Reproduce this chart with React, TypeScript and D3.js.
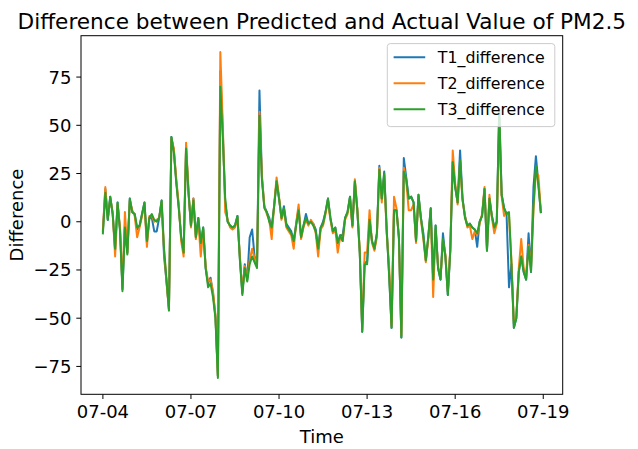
import React from 'react';
import * as d3 from 'd3';

// Hourly-step series (2 h sampling) of predicted minus actual PM2.5
const START = '2021-07-04 00:00';
const STEP_HOURS = 2;

const T1_difference = [
  -5, 17, 1, 13, 4, -15, 10, -4, -35, -2, -16, 12,
  5, 4, -4, -2, 4, 10, -11, 2, 2, -5, -5, 2,
  11, -18, -31, -45, 44, 37, 21, 8, -8, -16, 39, 15,
  -2, 12, -8, 2, -12, -3, -24, -32, -29, -37, -49, -80,
  78, 47, 10, 0, -2, -3, -2, 3, -19, -37, -22, -30,
  -8, -4, -18, -23, 68, 23, 8, 5, 2, -3, 8, 21,
  12, 2, 8, -1, -3, -5, -10, -1, 7, -8, -2, 4,
  -1, 0, -1, -4, -14, -3, 0, 5, 12, 2, -5, -3,
  -11, -7, -7, 2, 5, 13, -2, 21, 6, -16, -57, -21,
  -21, 1, -10, -14, -6, 29, 12, 26, -4, -27, -55, 6,
  6, -8, -60, 33, 23, 12, 13, 10, -10, 14, 2, -6,
  -20, -8, 7, -30, -2, -24, -30, -6, -18, -38, -15, 31,
  18, 10, 37, 12, 3, -2, -1, -3, -4, -13, 0, 3,
  17, -15, 12, 3, -3, 0, 58, 14, 7, 4, -34, -22,
  -55, -50, -26, -18, -26, -30, -6, -26, 18, 34, 20, 5,
];

const T2_difference = [
  -4, 18, 2, 12, 5, -18, 9, -3, -34, 5, -16, 11,
  6, 3, -8, -3, 3, 9, -13, 3, 3, 0, 1, 2,
  10, -15, -31, -46, 43, 38, 22, 9, -10, -18, 41, 16,
  -3, 12, -9, 1, -18, -4, -23, -31, -30, -36, -48, -80,
  88, 51, 5, 1, -3, -4, -3, 2, -18, -36, -23, -29,
  -20, -14, -19, -22, 57, 24, 8, 4, 1, -9, 9, 23,
  13, 1, 6, -3, -5, -7, -14, -1, 9, -9, -3, 1,
  -2, 1, -1, -6, -18, -4, -2, 4, 11, 1, -6, -4,
  -16, -8, -10, 1, 4, 12, -3, 22, 7, -15, -56, -16,
  -16, 6, -11, -15, -8, 28, 10, 24, -6, -23, -54, 13,
  7, -9, -59, 28, 21, 6, 6, 9, -11, 13, 1, -9,
  -21, -9, 6, -39, -4, -23, -29, -10, -17, -36, -14, 37,
  20, 9, 30, 11, 3, -3, -2, -9, -5, -7, -1, 4,
  18, -14, 14, 2, -6, -1, 50, 13, 3, 5, 3, -20,
  -53, -49, -24, -9, -24, -29, -12, -24, 6, 26, 24, 6,
];

const T3_difference = [
  -6, 15, 1, 13, 4, -14, 10, -5, -36, -3, -17, 12,
  5, 4, -3, -2, 4, 10, -10, 2, 4, 1, 0, 2,
  11, -14, -30, -46, 44, 36, 20, 7, -8, -16, 38, 15,
  -2, 11, -8, 2, -11, -3, -24, -34, -32, -39, -50, -81,
  70, 44, 12, 0, -2, -3, -2, 3, -20, -38, -24, -31,
  -22, -18, -21, -24, 55, 22, 7, 5, 0, -3, 8, 21,
  12, 2, 7, -2, -4, -6, -10, -2, 6, -8, -2, 2,
  -1, 0, -2, -5, -14, -3, -1, 5, 12, 2, -5, -3,
  -11, -7, -10, 2, 5, 13, -2, 21, 6, -16, -57, -22,
  -22, 1, -10, -14, -6, 27, 12, 25, -4, -28, -55, 6,
  6, -8, -60, 26, 22, 12, 13, 10, -10, 14, 2, -8,
  -20, -8, 7, -30, -2, -24, -30, -9, -18, -38, -15, 31,
  18, 10, 32, 12, 2, -2, -1, -3, -4, -6, 0, 3,
  17, -15, 12, 3, -3, 0, 58, 14, 7, 4, 5, -22,
  -55, -50, -26, -18, -26, -30, -13, -26, 8, 29, 19, 5,
];

const seriesNames = ['T1_difference', 'T2_difference', 'T3_difference'];
const seriesValues = [T1_difference, T2_difference, T3_difference];
const seriesColors = ['#1f77b4', '#ff7f0e', '#2ca02c'];

const xTickLabels = ['07-04', '07-07', '07-10', '07-13', '07-16', '07-19'];
const yTickValues = [-75, -50, -25, 0, 25, 50, 75];

const TITLE = 'Difference between Predicted and Actual Value of PM2.5';
const X_LABEL = 'Time';
const Y_LABEL = 'Difference';

const W = 638;
const H = 449;
const plot = { left: 81, right: 562.7, top: 35.7, bottom: 394.3 };
const FONT = '"DejaVu Sans", sans-serif';
const TICK_FS = 18;
const LEGEND_FS = 15.8;

export default function App() {
  const parseStart = d3.utcParse('%Y-%m-%d %H:%M');
  const t0 = parseStart(START)!.getTime();
  const times = T3_difference.map((_, i) => new Date(t0 + i * STEP_HOURS * 3600e3));

  const tMin = times[0].getTime();
  const tMax = times[times.length - 1].getTime();
  const tPad = (tMax - tMin) * 0.05;
  const x = d3.scaleUtc().domain([tMin - tPad, tMax + tPad]).range([plot.left, plot.right]);

  const allVals = seriesValues.flat();
  const [vMin, vMax] = d3.extent(allVals) as [number, number];
  const vPad = (vMax - vMin) * 0.05;
  const y = d3.scaleLinear().domain([vMin - vPad, vMax + vPad]).range([plot.bottom, plot.top]);

  const parseTick = d3.utcParse('%Y-%m-%d');
  const year = d3.utcFormat('%Y')(times[0]);
  const xTicks = xTickLabels.map((lab) => ({ lab, t: parseTick(`${year}-${lab}`)! }));

  const line = d3
    .line<number>()
    .x((_, i) => x(times[i]))
    .y((d) => y(d));

  const cx = (plot.left + plot.right) / 2;
  const cy = (plot.top + plot.bottom) / 2;

  // legend geometry (upper right)
  const legPadAx = 0.5 * LEGEND_FS;
  const legW = 167.5;
  const legRight = plot.right - legPadAx;
  const legLeft = legRight - legW;
  const legTop = plot.top + legPadAx;
  const legH = 83;
  const rowY0 = legTop + 13.7;
  const rowStep = 26;
  const handleX0 = legLeft + 0.4 * LEGEND_FS;
  const handleX1 = handleX0 + 2 * LEGEND_FS;
  const textX = handleX1 + 0.8 * LEGEND_FS;

  return (
    <svg
      width={W}
      height={H}
      viewBox={`0 0 ${W} ${H}`}
      style={{ position: 'absolute', left: 0, top: 0, background: '#fff' }}
      fontFamily={FONT}
    >
      <rect x={0} y={0} width={W} height={H} fill="#fff" />
      <defs>
        <clipPath id="plot-clip">
          <rect x={plot.left} y={plot.top} width={plot.right - plot.left} height={plot.bottom - plot.top} />
        </clipPath>
      </defs>

      <text x={cx} y={28.5} textAnchor="middle" fontSize={21.6} fill="#000">
        {TITLE}
      </text>

      <g clipPath="url(#plot-clip)">
        {seriesValues.map((vals, k) => (
          <path
            key={seriesNames[k]}
            d={line(vals) || ''}
            fill="none"
            stroke={seriesColors[k]}
            strokeWidth={2}
            strokeLinejoin="round"
            strokeLinecap="square"
          />
        ))}
      </g>

      {/* x axis ticks */}
      {xTicks.map(({ lab, t }) => (
        <g key={lab} transform={`translate(${x(t)},0)`}>
          <line y1={plot.bottom} y2={plot.bottom + 4.7} stroke="#000" strokeWidth={1} />
          <text y={418} textAnchor="middle" fontSize={TICK_FS} fill="#000">
            {lab}
          </text>
        </g>
      ))}

      {/* y axis ticks */}
      {yTickValues.map((v) => (
        <g key={v} transform={`translate(0,${y(v)})`}>
          <line x1={plot.left - 4.7} x2={plot.left} stroke="#000" strokeWidth={1} />
          <text x={plot.left - 9.6} y={6.5} textAnchor="end" fontSize={TICK_FS} fill="#000">
            {v < 0 ? `\u2212${Math.abs(v)}` : `${v}`}
          </text>
        </g>
      ))}

      <rect
        x={plot.left}
        y={plot.top}
        width={plot.right - plot.left}
        height={plot.bottom - plot.top}
        fill="none"
        stroke="#000"
        strokeWidth={1}
      />

      <text x={cx} y={443} textAnchor="middle" fontSize={TICK_FS} fill="#000">
        {X_LABEL}
      </text>
      <text
        transform={`translate(22.5,${cy}) rotate(-90)`}
        textAnchor="middle"
        fontSize={TICK_FS}
        fill="#000"
      >
        {Y_LABEL}
      </text>

      {/* legend */}
      <g>
        <rect
          x={legLeft}
          y={legTop}
          width={legW}
          height={legH}
          rx={3}
          fill="#fff"
          fillOpacity={0.8}
          stroke="#cccccc"
          strokeWidth={1}
        />
        {seriesNames.map((name, k) => {
          const ry = rowY0 + k * rowStep;
          return (
            <g key={name}>
              <line x1={handleX0} x2={handleX1} y1={ry} y2={ry} stroke={seriesColors[k]} strokeWidth={2} />
              <text x={textX} y={ry + 5.7} fontSize={LEGEND_FS} fill="#000">
                {name}
              </text>
            </g>
          );
        })}
      </g>
    </svg>
  );
}
